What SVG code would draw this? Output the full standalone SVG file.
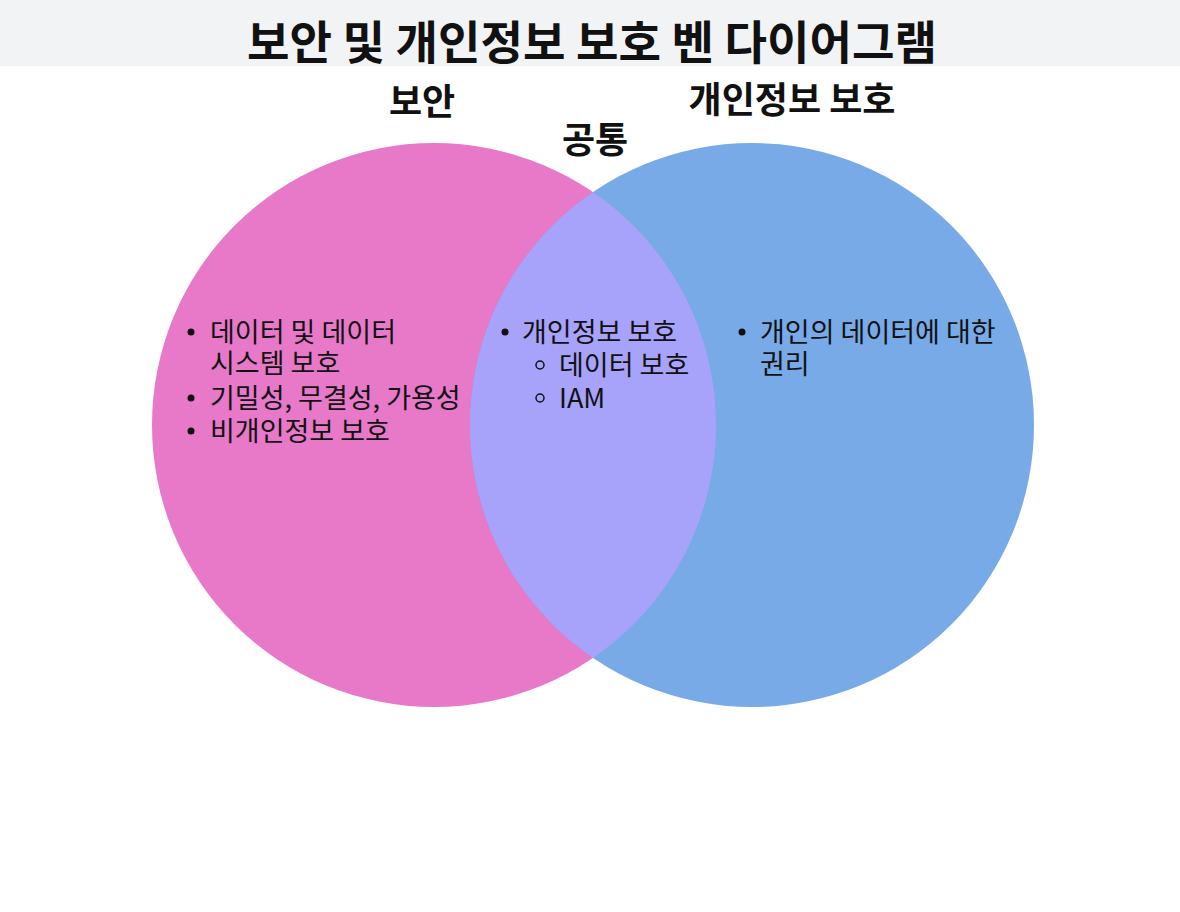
<svg xmlns="http://www.w3.org/2000/svg" width="1180" height="912" viewBox="0 0 1180 912">
<style>
text{font-family:"Noto Sans CJK KR","Noto Sans",sans-serif;fill:#111;}
.title{font-size:46px;font-weight:700;text-anchor:middle;}
.label{font-size:36px;font-weight:700;text-anchor:middle;}
.item{font-size:27px;}
.dot{fill:#111;}
.ring{fill:none;stroke:#111;stroke-width:1.5;}
</style>
<defs>
<clipPath id="clipLeft"><circle cx="434" cy="425" r="282"/></clipPath>
</defs>
<rect x="0" y="0" width="1180" height="912" fill="#ffffff"/>
<rect x="0" y="0" width="1180" height="66" fill="#F2F3F5"/>
<text class="title" x="592" y="59" textLength="690" lengthAdjust="spacingAndGlyphs">보안 및 개인정보 보호 벤 다이어그램</text>
<g id="security">
<circle cx="434" cy="425" r="282" fill="#E879C9"/>
<text class="label" x="422" y="115">보안</text>
<circle class="dot" cx="191" cy="332" r="3.5"/>
<text class="item" x="210" y="342">데이터 및 데이터</text>
<text class="item" x="210" y="373">시스템 보호</text>
<circle class="dot" cx="191" cy="398" r="3.5"/>
<text class="item" x="210" y="408">기밀성, 무결성, 가용성</text>
<circle class="dot" cx="191" cy="431" r="3.5"/>
<text class="item" x="210" y="441">비개인정보 보호</text>
</g>
<g id="privacy">
<circle cx="752" cy="425" r="282" fill="#78AAE8"/>
<text class="label" x="792" y="113">개인정보 보호</text>
<circle class="dot" cx="742" cy="332" r="3.5"/>
<text class="item" x="760" y="342">개인의 데이터에 대한</text>
<text class="item" x="760" y="374">권리</text>
</g>
<g id="common">
<circle cx="752" cy="425" r="282" fill="#A7A2FA" clip-path="url(#clipLeft)"/>
<text class="label" x="595" y="153">공통</text>
<circle class="dot" cx="505" cy="332" r="3.5"/>
<text class="item" x="522" y="342">개인정보 보호</text>
<circle class="ring" cx="540" cy="365" r="4"/>
<text class="item" x="559" y="375">데이터 보호</text>
<circle class="ring" cx="540" cy="398" r="4"/>
<text class="item" x="559" y="408">IAM</text>
</g>
<g id="connectors"></g>
</svg>
